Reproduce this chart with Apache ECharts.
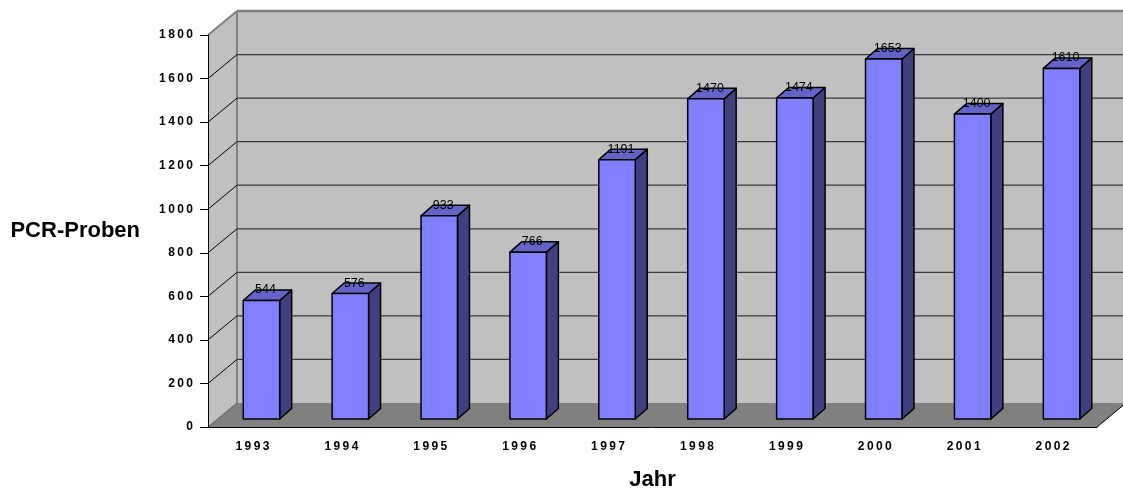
<!DOCTYPE html>
<html>
<head>
<meta charset="utf-8">
<script src="https://cdn.jsdelivr.net/npm/echarts@6/dist/echarts.min.js"></script>
<style>
  html, body { margin: 0; padding: 0; background: #fff; }
  #chart { width: 1123px; height: 496px; }
</style>
</head>
<body>
<div id="chart"></div>
<script>
// Daten
const years = ['1993', '1994', '1995', '1996', '1997', '1998', '1999', '2000', '2001', '2002'];
const samples = [544, 576, 933, 766, 1191, 1470, 1474, 1653, 1400, 1610];
const yTicks = [0, 200, 400, 600, 800, 1000, 1200, 1400, 1600, 1800];

// Pseudo-3D Versatz (Rückwand, Balkenfront, Balkentiefe)
const WALL_DX = 29, WALL_DY = -24;
const FRONT_DX = 9, FRONT_DY = -8;
const BAR_DX = 12, BAR_DY = -10.5;

const spaced = s => String(s).split('').join('\u2009');

const chart = echarts.init(document.getElementById('chart'));

function renderWalls(params, api) {
  const cs = params.coordSys;
  const left = cs.x, right = cs.x + cs.width;
  const v = api.value(1);
  const y = api.coord([0, v])[1];
  const y0 = api.coord([0, 0])[1];
  const yTop = api.coord([0, yTicks[yTicks.length - 1]])[1];
  const children = [];
  if (params.dataIndex === 0) {
    // Seitenwand, Rückwand, Boden
    children.push({
      type: 'polygon',
      shape: { points: [[left, yTop], [left + WALL_DX, yTop + WALL_DY], [left + WALL_DX, y0 + WALL_DY], [left, y0]] },
      style: { fill: '#c0c0c0' }
    });
    children.push({
      type: 'polygon',
      shape: { points: [[left + WALL_DX, yTop + WALL_DY], [right + WALL_DX, yTop + WALL_DY], [right + WALL_DX, y0 + WALL_DY], [left + WALL_DX, y0 + WALL_DY]] },
      style: { fill: '#c0c0c0' }
    });
    children.push({
      type: 'polygon',
      shape: { points: [[left, y0], [right, y0], [right + WALL_DX, y0 + WALL_DY], [left + WALL_DX, y0 + WALL_DY]] },
      style: { fill: '#808080' }
    });
    children.push({
      type: 'line',
      shape: { x1: left + WALL_DX, y1: yTop + WALL_DY, x2: left + WALL_DX, y2: y0 + WALL_DY },
      style: { stroke: '#808080', lineWidth: 2 }
    });
    children.push({
      type: 'line',
      shape: { x1: right, y1: y0, x2: right + WALL_DX, y2: y0 + WALL_DY },
      style: { stroke: '#000', lineWidth: 1 }
    });
    children.push({
      type: 'line',
      shape: { x1: left, y1: y0, x2: left + WALL_DX, y2: y0 + WALL_DY },
      style: { stroke: '#555', lineWidth: 1 }
    });
    return { type: 'group', children: children };
  }
  const isTop = v === yTicks[yTicks.length - 1];
  children.push({
    type: 'line',
    shape: { x1: left, y1: y, x2: left + WALL_DX, y2: y + WALL_DY },
    style: { stroke: isTop ? '#808080' : '#000', lineWidth: isTop ? 2 : 1 }
  });
  children.push({
    type: 'line',
    shape: { x1: left + WALL_DX, y1: y + WALL_DY, x2: right + WALL_DX, y2: y + WALL_DY },
    style: { stroke: isTop ? '#808080' : '#3a3a3a', lineWidth: isTop ? 2.5 : 1.2 }
  });
  return { type: 'group', children: children };
}

function renderBar(params, api) {
  const idx = api.value(0);
  const val = api.value(1);
  const base = api.coord([idx, 0]);
  const top = api.coord([idx, val]);
  const w = api.size([1, 0])[0] * 0.41;
  const x0 = base[0] - w / 2 + FRONT_DX;
  const x1 = x0 + w;
  const yb = base[1] + FRONT_DY;
  const yt = top[1] + FRONT_DY;
  const edge = { stroke: '#000', lineWidth: 1.5, lineJoin: 'round' };
  return {
    type: 'group',
    children: [
      {
        type: 'polygon',
        shape: { points: [[x1, yt], [x1 + BAR_DX, yt + BAR_DY], [x1 + BAR_DX, yb + BAR_DY], [x1, yb]] },
        style: Object.assign({ fill: '#404080' }, edge)
      },
      {
        type: 'polygon',
        shape: { points: [[x0, yt], [x1, yt], [x1 + BAR_DX, yt + BAR_DY], [x0 + BAR_DX, yt + BAR_DY]] },
        style: Object.assign({ fill: '#6464c8' }, edge)
      },
      {
        type: 'rect',
        shape: { x: x0, y: yt, width: w, height: yb - yt },
        style: Object.assign({ fill: '#8080ff' }, edge)
      },
      {
        type: 'text',
        x: (x0 + x1) / 2 + 4,
        y: yt - 4,
        style: {
          text: String(val),
          fill: '#000',
          font: '12.5px "Liberation Sans", Arial, sans-serif',
          align: 'center',
          verticalAlign: 'bottom'
        }
      }
    ]
  };
}

chart.setOption({
  animation: false,
  backgroundColor: '#fff',
  grid: { left: 208, right: 26, top: 35, bottom: 69 },
  xAxis: {
    type: 'category',
    data: years,
    z: 10,
    name: 'Jahr',
    nameLocation: 'middle',
    nameGap: 42,
    nameTextStyle: { fontFamily: 'Liberation Sans', fontWeight: 'bold', fontSize: 22, color: '#000' },
    axisLine: { lineStyle: { color: '#000', width: 1 } },
    axisTick: { length: 7, lineStyle: { color: '#000' } },
    axisLabel: {
      margin: 14,
      fontFamily: 'Liberation Sans',
      fontWeight: 'bold',
      fontSize: 12,
      color: '#000',
      formatter: spaced
    },
    splitLine: { show: false }
  },
  yAxis: {
    type: 'value',
    min: 0,
    max: 1800,
    interval: 200,
    z: 10,
    name: 'PCR-Proben',
    nameLocation: 'middle',
    nameRotate: 0,
    nameGap: 68,
    nameTextStyle: { fontFamily: 'Liberation Sans', fontWeight: 'bold', fontSize: 22, color: '#000' },
    axisLine: { show: true, lineStyle: { color: '#000', width: 1 } },
    axisTick: { show: true, length: 8, lineStyle: { color: '#000' } },
    axisLabel: {
      margin: 15,
      fontFamily: 'Liberation Sans',
      fontWeight: 'bold',
      fontSize: 12,
      color: '#000',
      formatter: spaced
    },
    splitLine: { show: false }
  },
  series: [
    {
      type: 'custom',
      z: 1,
      renderItem: renderWalls,
      encode: { x: 0, y: 1 },
      data: yTicks.map(v => [0, v]),
      silent: true
    },
    {
      type: 'custom',
      z: 3,
      renderItem: renderBar,
      encode: { x: 0, y: 1 },
      data: samples.map((v, i) => [i, v])
    }
  ]
});
</script>
</body>
</html>
